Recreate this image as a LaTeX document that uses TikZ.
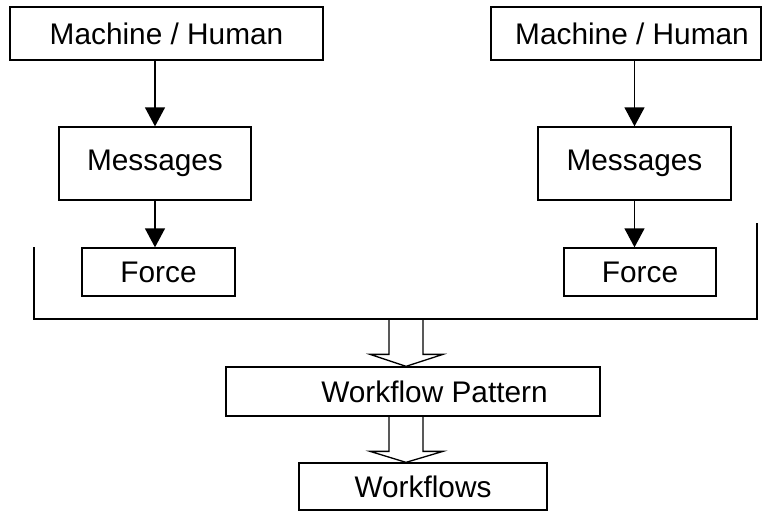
\documentclass[tikz,border=0pt]{standalone}
\usepackage{fontspec}
\setmainfont{Liberation Sans}
\usetikzlibrary{arrows.meta,calc}
\begin{document}
\begin{tikzpicture}[x=1pt,y=-1pt,
  box/.style={draw=black,line width=1.3pt,fill=white,inner sep=0pt,
    font=\fontsize{29.8}{35}\selectfont},
  link/.style={line width=1.3pt,-{Triangle[width=20pt,length=19pt]}},
  hollow/.style={draw=black,line width=1.3pt,line join=miter}]
\useasboundingbox (0,0) rectangle (763,511);
\node[box,minimum width=313pt,minimum height=53pt] (mh1) at (166.5,33.5) {Machine / Human};
\node[box,minimum width=192pt,minimum height=73pt] (msg1) at (155,163.5) {Messages};
\node[box,minimum width=153pt,minimum height=48pt] (f1) at (158.5,272) {Force};
\node[box,minimum width=270pt,minimum height=53pt] (mh2) at (626,33.5) {\hspace*{12pt}Machine / Human};
\node[box,minimum width=193pt,minimum height=73pt] (msg2) at (634.5,163.5) {Messages};
\node[box,minimum width=152pt,minimum height=48pt] (f2) at (640,272) {Force};
\node[box,minimum width=374pt,minimum height=49pt] (wp) at (413,391.5) {\hspace*{43pt}Workflow Pattern};
\node[box,minimum width=248pt,minimum height=47pt] (wf) at (423,486.5) {Workflows};
\draw[link] (mh1.south -| msg1.north) -- (msg1.north);
\draw[link] (msg1.south) -- (msg1.south |- f1.north);
\draw[link] (mh2.south -| msg2.north) -- (msg2.north);
\draw[link] (msg2.south) -- (msg2.south |- f2.north);
% bracket
\coordinate (bl) at (34,247);
\coordinate (br) at (757,223);
\coordinate (bk) at (406,319);
\draw[line width=1.3pt] (bl) -- (bl |- bk) -- (br |- bk) -- (br);
% hollow arrows
\coordinate (t1) at (bk |- wp.north);
\coordinate (s2) at (bk |- wp.south);
\coordinate (t2) at (bk |- wf.north);
\draw[hollow] ($(bk)+(-17,0)$) -- ($(t1)+(-17,-12)$) -- ($(t1)+(-36,-12)$) -- (t1)
  -- ($(t1)+(37,-12)$) -- ($(t1)+(17,-12)$) -- ($(bk)+(17,0)$);
\draw[hollow] ($(s2)+(-17,0)$) -- ($(t2)+(-17,-11)$) -- ($(t2)+(-36,-11)$) -- (t2)
  -- ($(t2)+(37,-11)$) -- ($(t2)+(17,-11)$) -- ($(s2)+(17,0)$);
\end{tikzpicture}
\end{document}
